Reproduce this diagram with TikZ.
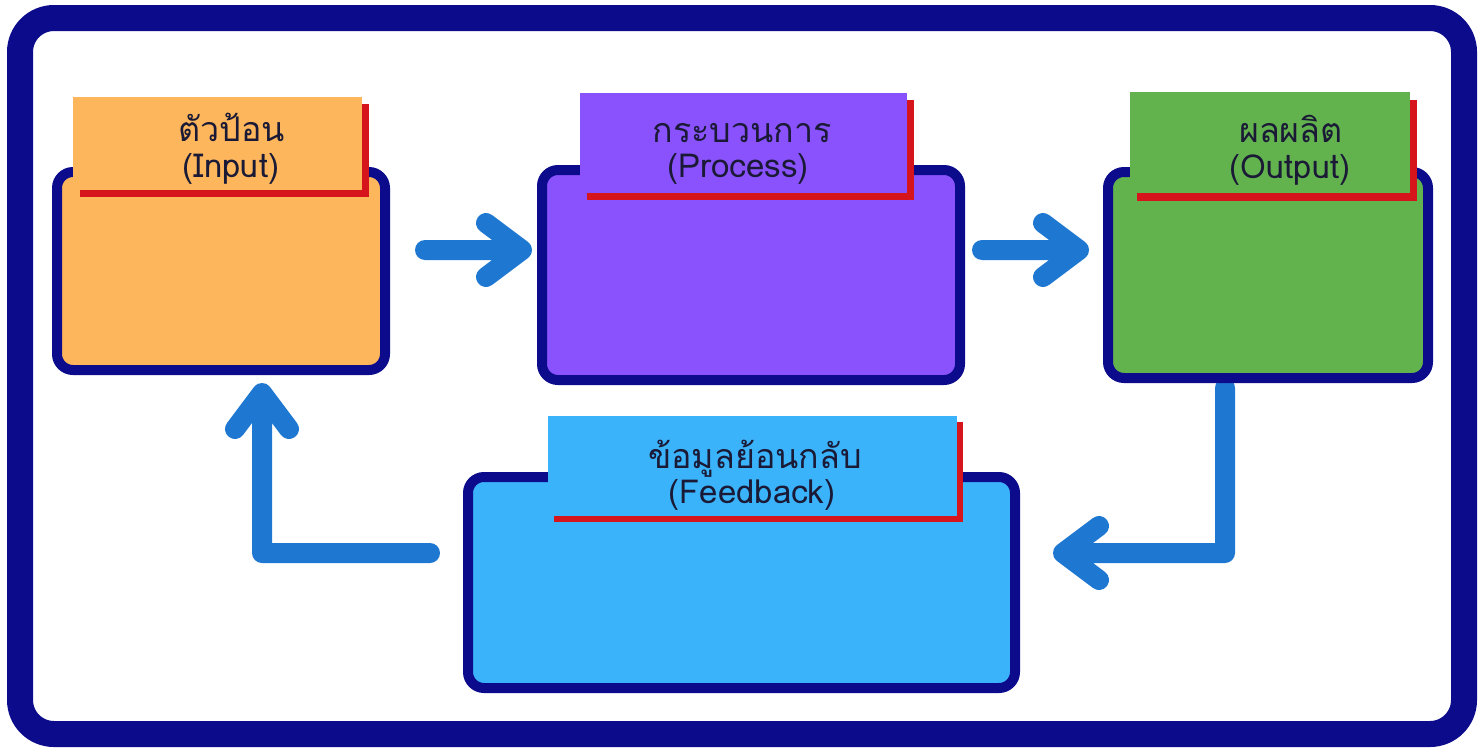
\documentclass[tikz,border=0pt]{standalone}
\usepackage{fontspec}
\newfontfamily\thaifont[Script=Thai]{Loma}
\definecolor{navy}{HTML}{0B0B8C}
\definecolor{flowblue}{HTML}{1E78D2}
\definecolor{inorange}{HTML}{FDB65B}
\definecolor{procpurple}{HTML}{8A52FC}
\definecolor{outgreen}{HTML}{62B24E}
\definecolor{fbblue}{HTML}{3BB3FA}
\definecolor{shadowred}{HTML}{D6141C}
\definecolor{textdark}{HTML}{1A1A36}
\tikzset{
  frame/.style={draw=navy, line width=26pt, rounded corners=34pt},
  stagebox/.style={draw=navy, line width=10pt, rounded corners=16pt, rectangle, inner sep=0pt},
  tabbox/.style={rectangle, inner sep=0pt, draw=none},
  tabshadow/.style={rectangle, inner sep=0pt, draw=none, fill=shadowred},
  flow/.style={draw=flowblue, line width=20pt, line cap=round, line join=round},
  thailbl/.style={anchor=base, text=textdark, font=\thaifont\fontsize{34}{38}\selectfont, inner sep=0pt},
  englbl/.style={anchor=base, text=textdark, font=\thaifont\fontsize{33}{38}\selectfont, inner sep=0pt}
}
\begin{document}
\begin{tikzpicture}[x=1pt,y=-1pt]
\useasboundingbox (0,0) rectangle (1483,747);
\fill[white] (0,0) rectangle (1483,747);
% outer frame
\draw[frame] (20,18) rectangle (1464,734);
% arrow coordinates
\coordinate (a1s) at (425,250);
\coordinate (a1t) at (522,250);
\coordinate (a2s) at (982,250);
\coordinate (a2t) at (1079,250);
\coordinate (a3s) at (1225,388);
\coordinate (a3c) at (1225,553);
\coordinate (a3t) at (1063,553);
\coordinate (a4s) at (430,553);
\coordinate (a4c) at (262,553);
\coordinate (a4t) at (262,393);
% arrows
\draw[flow] (a1s) -- (a1t) ++(-36,-27) -- (a1t) -- ++(-36,27);
\draw[flow] (a2s) -- (a2t) ++(-36,-27) -- (a2t) -- ++(-36,27);
\draw[flow] (a3s) -- (a3c) -- (a3t) ++(36,-27) -- (a3t) -- ++(36,27);
\draw[flow] (a4s) -- (a4c) -- (a4t) ++(-27,36) -- (a4t) -- ++(27,36);
% boxes
\node[stagebox, fill=inorange, minimum width=328pt, minimum height=198pt] (inp) at (221,271) {};
\node[stagebox, fill=procpurple, minimum width=418pt, minimum height=210pt] (proc) at (751,275) {};
\node[stagebox, fill=outgreen, minimum width=320pt, minimum height=206pt] (outp) at (1268,275) {};
\node[stagebox, fill=fbblue, minimum width=547pt, minimum height=211pt] (fb) at (741.5,582.5) {};
% tab shadows and tabs
\node[tabshadow, minimum width=289pt, minimum height=93pt] (inpshadow) at (224.5,150.5) {};
\node[tabbox, fill=inorange, minimum width=289pt, minimum height=93pt] (inptab) at (217.5,143.5) {};
\node[tabshadow, minimum width=327pt, minimum height=100pt] (procshadow) at (750.5,150) {};
\node[tabbox, fill=procpurple, minimum width=327pt, minimum height=100pt] (proctab) at (743.5,143) {};
\node[tabshadow, minimum width=280pt, minimum height=101pt] (outpshadow) at (1277,150.5) {};
\node[tabbox, fill=outgreen, minimum width=280pt, minimum height=101pt] (outptab) at (1270,142.5) {};
\node[tabshadow, minimum width=409pt, minimum height=100pt] (fbshadow) at (758.5,472) {};
\node[tabbox, fill=fbblue, minimum width=409pt, minimum height=100pt] (fbtab) at (752.5,466) {};
% labels
\node[thailbl] (inpth) at (232,141) {ตัวป้อน};
\node[englbl] (inpen) at (231,177) {(Input)};
\node[thailbl] (procth) at (742,142) {กระบวนการ};
\node[englbl] (procen) at (738,177) {(Process)};
\node[thailbl] (outpth) at (1291,142) {ผลผลิต};
\node[englbl] (outpen) at (1290,178) {(Output)};
\node[thailbl] (fbth) at (755,468) {ข้อมูลย้อนกลับ};
\node[englbl] (fben) at (752,503) {(Feedback)};
\end{tikzpicture}
\end{document}
